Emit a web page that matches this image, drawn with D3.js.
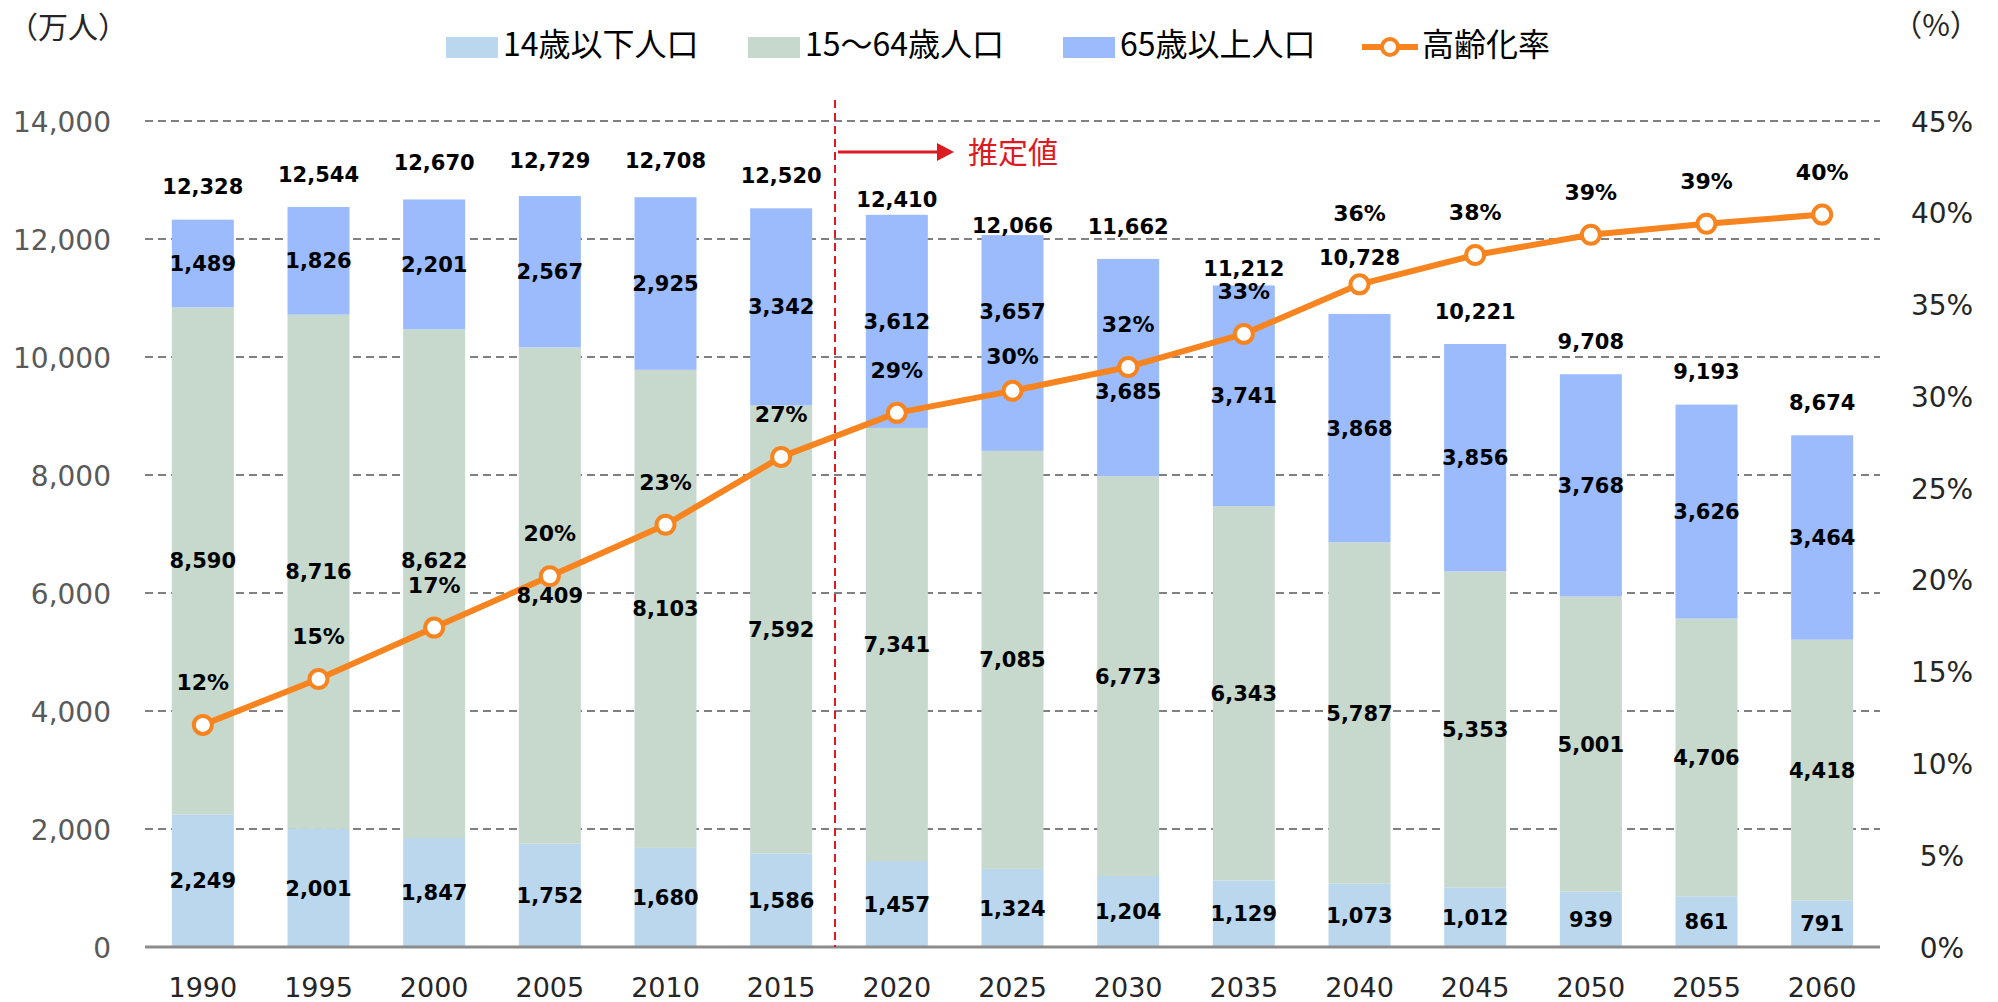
<!DOCTYPE html>
<html lang="ja">
<head>
<meta charset="UTF-8">
<title>年齢3区分別人口と高齢化率</title>
<script src="https://cdnjs.cloudflare.com/ajax/libs/d3/7.8.5/d3.min.js"></script>
<style>
  body { margin: 0; background: #fff; }
  svg { display: block; }
  .num { font-family: "DejaVu Sans", Verdana, sans-serif; }
  .jp { font-family: "Noto Sans CJK JP", sans-serif; }
</style>
</head>
<body>
<div id="wrapper"></div>
<script>
// data (万人)
const years = ["1990", "1995", "2000", "2005", "2010", "2015", "2020", "2025", "2030", "2035", "2040", "2045", "2050", "2055", "2060"];
const under14 = [2249, 2001, 1847, 1752, 1680, 1586, 1457, 1324, 1204, 1129, 1073, 1012, 939, 861, 791];
const age15to64 = [8590, 8716, 8622, 8409, 8103, 7592, 7341, 7085, 6773, 6343, 5787, 5353, 5001, 4706, 4418];
const over65 = [1489, 1826, 2201, 2567, 2925, 3342, 3612, 3657, 3685, 3741, 3868, 3856, 3768, 3626, 3464];
const totals = [12328, 12544, 12670, 12729, 12708, 12520, 12410, 12066, 11662, 11212, 10728, 10221, 9708, 9193, 8674];
// 高齢化率 (%)
const agingRate = [12.1, 14.6, 17.4, 20.2, 23.0, 26.7, 29.1, 30.3, 31.6, 33.4, 36.1, 37.7, 38.8, 39.4, 39.9];

const popTicks = [0, 2000, 4000, 6000, 8000, 10000, 12000, 14000];
const rateTicks = [0, 5, 10, 15, 20, 25, 30, 35, 40, 45];
const seriesNames = ["14歳以下人口", "15～64歳人口", "65歳以上人口"];
const rateName = "高齢化率";
const colors = ["#bbd7ee", "#c7d9cd", "#9bbbfd"];
const orange = "#f8841f";
const red = "#dc1a22";

// small label nudges so labels don't collide (px)
const totalNudge = { "2000": -4, "2005": -3, "2010": -4, "2020": 18, "2025": 23, "2035": 16, "2040": -24 };
const rateNudge = { "2025": 8, "2040": -28 };
const segNudge = { "1|2000": -23, "2|2025": -32, "2|2030": 24 };

const width = 1998, height = 1002;
const plot = { left: 145, right: 1880, top: 121, bottom: 947 };

const svg = d3.select("#wrapper").append("svg")
  .attr("width", width)
  .attr("height", height);

const x = d3.scaleBand()
  .domain(years)
  .range([plot.left, plot.right])
  .paddingInner(0.464)
  .paddingOuter(0.232);

const y = d3.scaleLinear().domain([0, 14000]).range([plot.bottom, plot.top]);
const yRate = d3.scaleLinear().domain([0, 45]).range([plot.bottom, plot.top]);

const table = years.map((yr, i) => ({ year: yr, s0: under14[i], s1: age15to64[i], s2: over65[i] }));
const stacked = d3.stack().keys(["s0", "s1", "s2"])(table);

// gridlines
svg.append("g")
  .selectAll("line")
  .data(popTicks.filter(d => d > 0))
  .join("line")
  .attr("x1", plot.left).attr("x2", plot.right)
  .attr("y1", d => y(d)).attr("y2", d => y(d))
  .attr("stroke", "#808080")
  .attr("stroke-width", 2)
  .attr("stroke-dasharray", "8,5");

// bars
const layers = svg.append("g").selectAll("g")
  .data(stacked)
  .join("g")
  .attr("fill", (d, i) => colors[i]);

layers.selectAll("rect")
  .data(d => d)
  .join("rect")
  .attr("x", d => x(d.data.year))
  .attr("width", x.bandwidth())
  .attr("y", d => y(d[1]))
  .attr("height", d => y(d[0]) - y(d[1]));

// baseline
svg.append("line")
  .attr("x1", plot.left).attr("x2", plot.right)
  .attr("y1", y(0)).attr("y2", y(0))
  .attr("stroke", "#8c8c8c")
  .attr("stroke-width", 3);

// left axis
const yAxis = svg.append("g")
  .attr("transform", `translate(${plot.left},0)`)
  .call(d3.axisLeft(y).tickValues(popTicks).tickFormat(d3.format(",")).tickSize(0).tickPadding(34));
yAxis.select(".domain").remove();
yAxis.selectAll("text")
  .attr("class", "num")
  .attr("font-size", 28)
  .attr("fill", "#595959")
  .attr("dy", "0.36em");

// right axis
const rAxis = svg.append("g")
  .attr("transform", `translate(${plot.right},0)`)
  .call(d3.axisRight(yRate).tickValues(rateTicks).tickFormat(d => d + "%").tickSize(0));
rAxis.select(".domain").remove();
rAxis.selectAll("text")
  .attr("class", "num")
  .attr("font-size", 28)
  .attr("fill", "#262626")
  .attr("text-anchor", "middle")
  .attr("x", 62)
  .attr("dy", "0.36em");

// bottom axis
const xAxis = svg.append("g")
  .attr("transform", `translate(0,${plot.bottom})`)
  .call(d3.axisBottom(x).tickSize(0));
xAxis.select(".domain").remove();
xAxis.selectAll("text")
  .attr("class", "num")
  .attr("font-size", 27)
  .attr("fill", "#262626")
  .attr("y", 40)
  .attr("dy", "0.36em");

// 推定値 marker
const splitX = (x("2015") + x.bandwidth() + x("2020")) / 2 - 4;
svg.append("line")
  .attr("x1", splitX).attr("x2", splitX)
  .attr("y1", 100).attr("y2", plot.bottom)
  .attr("stroke", red)
  .attr("stroke-width", 2)
  .attr("stroke-dasharray", "8,5");
svg.append("line")
  .attr("x1", splitX + 3).attr("x2", 940)
  .attr("y1", 152).attr("y2", 152)
  .attr("stroke", red)
  .attr("stroke-width", 3);
svg.append("path")
  .attr("d", "M937,143 L954,152 L937,161 Z")
  .attr("fill", red);
svg.append("text")
  .attr("class", "jp")
  .attr("x", 968).attr("y", 152)
  .attr("dy", "0.36em")
  .attr("font-size", 30)
  .attr("fill", red)
  .text("推定値");

// aging rate line
const cx = i => x(years[i]) + x.bandwidth() / 2;
const line = d3.line()
  .x((d, i) => cx(i))
  .y(d => yRate(d));

svg.append("path")
  .attr("d", line(agingRate))
  .attr("fill", "none")
  .attr("stroke", orange)
  .attr("stroke-width", 6)
  .attr("stroke-linejoin", "round");

svg.append("g").selectAll("circle")
  .data(agingRate)
  .join("circle")
  .attr("cx", (d, i) => cx(i))
  .attr("cy", d => yRate(d))
  .attr("r", 9)
  .attr("fill", "#fff")
  .attr("stroke", orange)
  .attr("stroke-width", 4);

// segment labels
const segLabels = svg.append("g").attr("class", "num")
  .attr("font-weight", "bold").attr("font-size", 21)
  .attr("text-anchor", "middle");
stacked.forEach((layer, k) => {
  segLabels.selectAll(null)
    .data(layer)
    .join("text")
    .attr("x", d => x(d.data.year) + x.bandwidth() / 2)
    .attr("y", d => (y(d[0]) + y(d[1])) / 2 + (segNudge[k + "|" + d.data.year] || 0))
    .attr("dy", "0.36em")
    .text(d => d3.format(",")(d[1] - d[0]));
});

// total labels
svg.append("g").attr("class", "num")
  .attr("font-weight", "bold").attr("font-size", 21)
  .attr("text-anchor", "middle")
  .selectAll("text")
  .data(totals)
  .join("text")
  .attr("x", (d, i) => cx(i))
  .attr("y", (d, i) => y(stacked[2][i][1]) - 33 + (totalNudge[years[i]] || 0))
  .attr("dy", "0.36em")
  .text(d => d3.format(",")(d));

// rate labels
svg.append("g").attr("class", "num")
  .attr("font-weight", "bold").attr("font-size", 22)
  .attr("text-anchor", "middle")
  .selectAll("text")
  .data(agingRate)
  .join("text")
  .attr("x", (d, i) => cx(i))
  .attr("y", (d, i) => yRate(d) - 43 + (rateNudge[years[i]] || 0))
  .attr("dy", "0.36em")
  .text(d => d3.format(".0f")(d) + "%");

// unit labels
svg.append("text").attr("class", "jp")
  .attr("x", 8).attr("y", 27).attr("dy", "0.36em")
  .attr("font-size", 30).attr("fill", "#262626")
  .text("（万人）");
svg.append("text").attr("class", "jp")
  .attr("x", 1936).attr("y", 25).attr("dy", "0.36em")
  .attr("text-anchor", "middle")
  .attr("font-size", 30).attr("fill", "#262626")
  .text("（%）");

// legend
const legendX = [446, 748, 1063];
const legend = svg.append("g");
seriesNames.forEach((name, i) => {
  legend.append("rect")
    .attr("x", legendX[i]).attr("y", 37)
    .attr("width", 52).attr("height", 21)
    .attr("fill", colors[i]);
  legend.append("text").attr("class", "jp")
    .attr("x", legendX[i] + 57).attr("y", 44).attr("dy", "0.36em")
    .attr("font-size", 32).attr("fill", "#000")
    .text(name);
});
legend.append("line")
  .attr("x1", 1362).attr("x2", 1418)
  .attr("y1", 47).attr("y2", 47)
  .attr("stroke", orange).attr("stroke-width", 6);
legend.append("circle")
  .attr("cx", 1390).attr("cy", 47).attr("r", 8)
  .attr("fill", "#fff").attr("stroke", orange).attr("stroke-width", 4);
legend.append("text").attr("class", "jp")
  .attr("x", 1422).attr("y", 44).attr("dy", "0.36em")
  .attr("font-size", 32).attr("fill", "#000")
  .text(rateName);
</script>
</body>
</html>
